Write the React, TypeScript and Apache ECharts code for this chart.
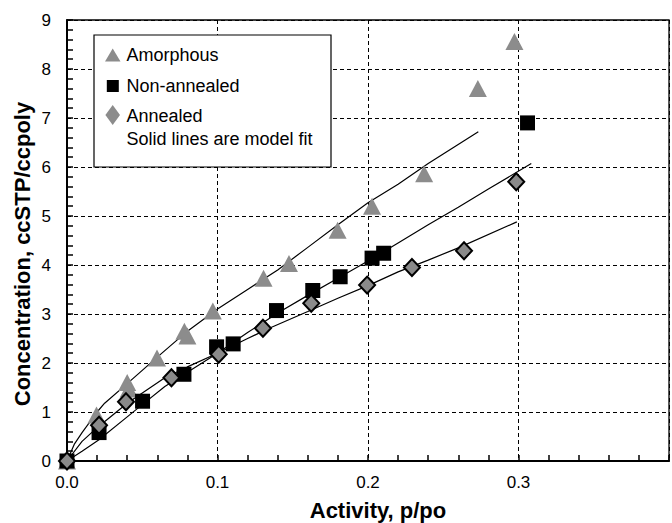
import React, { useEffect, useRef } from "react";
import * as echarts from "echarts";

// ---- data ----
const amorphousX = [0, 0.0196, 0.040, 0.041, 0.0598, 0.078, 0.080, 0.0969, 0.1306, 0.1475, 0.1798, 0.2027, 0.2373, 0.273, 0.2973];
const amorphousY = [0, 0.94, 1.6, 1.47, 2.10, 2.65, 2.55, 3.06, 3.73, 4.03, 4.71, 5.20, 5.86, 7.60, 8.56];

const nonAnnealedX = [0, 0.0213, 0.0502, 0.0777, 0.0994, 0.1104, 0.1392, 0.1633, 0.1815, 0.2027, 0.2104, 0.306];
const nonAnnealedY = [0, 0.58, 1.22, 1.77, 2.33, 2.39, 3.07, 3.48, 3.76, 4.14, 4.24, 6.9];

const annealedX = [0, 0.0213, 0.0392, 0.0694, 0.1008, 0.1302, 0.1623, 0.1994, 0.2292, 0.2638, 0.2985];
const annealedY = [0, 0.73, 1.21, 1.70, 2.18, 2.71, 3.22, 3.59, 3.95, 4.29, 5.70];

// model fit lines
const amorphousFitX = [0, 0.005, 0.01, 0.02, 0.025, 0.04, 0.06, 0.08, 0.1, 0.12, 0.14, 0.16, 0.18, 0.2, 0.22, 0.24, 0.2733];
const amorphousFitY = [0, 0.35, 0.58, 1.0, 1.18, 1.58, 2.12, 2.65, 3.1, 3.5, 3.9, 4.36, 4.82, 5.27, 5.65, 6.07, 6.72];

const nonAnnealedFitX = [0, 0.01, 0.021, 0.04, 0.05, 0.065, 0.08, 0.1, 0.12, 0.14, 0.16, 0.18, 0.2, 0.22, 0.24, 0.26, 0.28, 0.3085];
const nonAnnealedFitY = [0, 0.2, 0.43, 0.9, 1.15, 1.52, 1.81, 2.2, 2.62, 3.02, 3.38, 3.73, 4.08, 4.45, 4.82, 5.18, 5.55, 6.07];

const annealedFitX = [0, 0.01, 0.02, 0.04, 0.065, 0.08, 0.1, 0.12, 0.1344, 0.16, 0.18, 0.2, 0.22, 0.24, 0.26, 0.2989];
const annealedFitY = [0, 0.4, 0.68, 1.18, 1.70, 1.92, 2.2, 2.5, 2.71, 3.05, 3.32, 3.58, 3.86, 4.1, 4.35, 4.88];

const xTicks = [0, 0.1, 0.2, 0.3];
const legendLabels = ["Amorphous", "Non-annealed", "Annealed"];
const legendNote = "Solid lines are model fit";
const xTitle = "Activity, p/po";
const yTitle = "Concentration, ccSTP/ccpoly";

const FONT = "'Liberation Sans', Arial, Helvetica, sans-serif";

const pairs = (xs: number[], ys: number[]) => xs.map((x, i) => [x, ys[i]]);

export default function App() {
  const ref = useRef<HTMLDivElement>(null);

  useEffect(() => {
    const chart = echarts.init(ref.current!, null, { renderer: "svg" });

    const fitLine = (name: string, xs: number[], ys: number[]) => ({
      name,
      type: "line",
      data: pairs(xs, ys),
      showSymbol: false,
      symbol: "none",
      lineStyle: { color: "#000", width: 1.2 },
      z: 1,
      silent: true,
    });

    const legendText = (text: string, y: number) => ({
      type: "text",
      z: 101,
      style: {
        text,
        x: 126.5,
        y,
        fill: "#000",
        font: `18px ${FONT}`,
        textAlign: "left",
        align: "left",
        textVerticalAlign: "middle",
        verticalAlign: "middle",
      },
    });

    chart.setOption({
      animation: false,
      backgroundColor: "#fff",
      grid: {
        left: 67,
        top: 20,
        width: 693,
        height: 441,
        show: true,
        borderColor: "#000",
        borderWidth: 1.3,
        backgroundColor: "transparent",
        containLabel: false,
      },
      xAxis: {
        type: "value",
        min: 0,
        max: 0.4,
        interval: 0.1,
        axisLine: { show: true, onZero: false, lineStyle: { color: "#000", width: 2 } },
        axisTick: { show: true, inside: true, length: 6, lineStyle: { color: "#000", width: 1.5 } },
        minorTick: { show: true, splitNumber: 5, length: 6, lineStyle: { color: "#000", width: 1.5 } },
        splitLine: { show: true, lineStyle: { color: "#000", width: 1, type: [4, 3] } },
        axisLabel: {
          show: true,
          margin: 13,
          color: "#000",
          fontFamily: FONT,
          fontSize: 17,
          formatter: (v: number) => (xTicks.some((t) => Math.abs(t - v) < 1e-9) ? v.toFixed(1) : ""),
        },
      },
      yAxis: {
        type: "value",
        min: 0,
        max: 9,
        interval: 1,
        axisLine: { show: true, onZero: false, lineStyle: { color: "#000", width: 2 } },
        axisTick: { show: true, inside: true, length: 6, lineStyle: { color: "#000", width: 1.5 } },
        minorTick: { show: true, splitNumber: 5, length: 6, lineStyle: { color: "#000", width: 1.5 } },
        splitLine: { show: true, lineStyle: { color: "#000", width: 1, type: [4, 3] } },
        axisLabel: {
          show: true,
          margin: 16,
          color: "#000",
          fontFamily: FONT,
          fontSize: 17,
        },
      },
      series: [
        fitLine("Amorphous fit", amorphousFitX, amorphousFitY),
        fitLine("Non-annealed fit", nonAnnealedFitX, nonAnnealedFitY),
        fitLine("Annealed fit", annealedFitX, annealedFitY),
        {
          name: legendLabels[0],
          type: "scatter",
          data: pairs(amorphousX, amorphousY),
          symbol: "triangle",
          symbolSize: [18, 17],
          itemStyle: { color: "#8c8c8c", opacity: 1 },
          z: 3,
        },
        {
          name: legendLabels[1],
          type: "scatter",
          data: pairs(nonAnnealedX, nonAnnealedY),
          symbol: "rect",
          symbolSize: 15,
          itemStyle: { color: "#000", opacity: 1 },
          z: 4,
        },
        {
          name: legendLabels[2],
          type: "scatter",
          data: pairs(annealedX, annealedY),
          symbol: "diamond",
          symbolSize: [16, 17],
          itemStyle: { color: "#8a8a8a", borderColor: "#000", borderWidth: 2, opacity: 1 },
          z: 5,
        },
      ],
      graphic: [
        {
          type: "rect",
          z: 100,
          shape: { x: 94, y: 35, width: 237, height: 132 },
          style: { fill: "#fff", stroke: "#000", lineWidth: 1.2 },
        },
        {
          type: "polygon",
          z: 101,
          shape: { points: [[105, 61.5], [120.5, 61.5], [112.7, 48.5]] },
          style: { fill: "#8c8c8c" },
        },
        {
          type: "rect",
          z: 101,
          shape: { x: 106.8, y: 80, width: 12, height: 12 },
          style: { fill: "#000" },
        },
        {
          type: "polygon",
          z: 101,
          shape: { points: [[112.7, 105], [120, 115], [112.7, 125], [105.4, 115]] },
          style: { fill: "#8c8c8c" },
        },
        legendText(legendLabels[0], 55),
        legendText(legendLabels[1], 86),
        legendText(legendLabels[2], 116),
        legendText(legendNote, 138.5),
        {
          type: "text",
          z: 101,
          x: 378,
          y: 510,
          style: {
            text: xTitle,
            x: 0,
            y: 0,
            fill: "#000",
            font: `bold 22px ${FONT}`,
            textAlign: "center",
            align: "center",
            textVerticalAlign: "middle",
            verticalAlign: "middle",
          },
        },
        {
          type: "text",
          z: 101,
          x: 22,
          y: 254,
          rotation: Math.PI / 2,
          style: {
            text: yTitle,
            x: 0,
            y: 0,
            fill: "#000",
            font: `bold 22px ${FONT}`,
            textAlign: "center",
            align: "center",
            textVerticalAlign: "middle",
            verticalAlign: "middle",
          },
        },
      ],
    });

    return () => chart.dispose();
  }, []);

  return (
    <div
      ref={ref}
      style={{ position: "absolute", left: 0, top: 0, width: 672, height: 523, background: "#fff" }}
    />
  );
}
